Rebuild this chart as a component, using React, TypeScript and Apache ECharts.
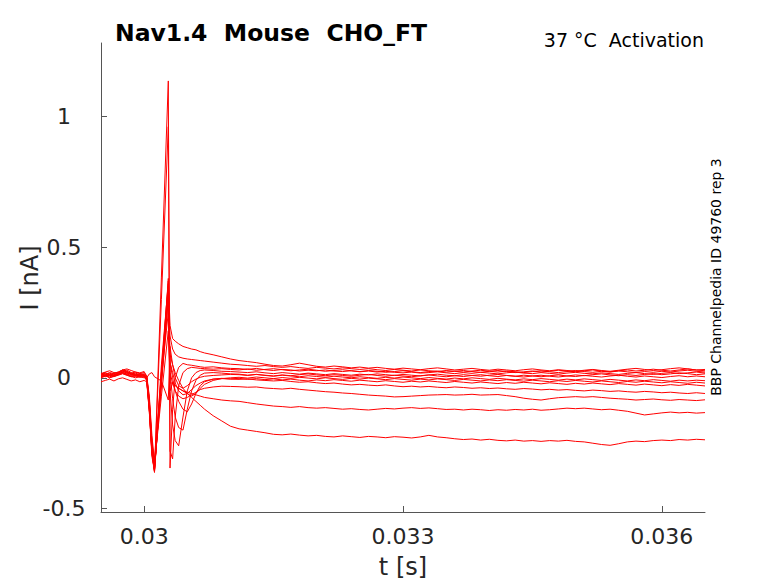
import React, { useEffect, useRef } from 'react';
import * as echarts from 'echarts';

// sample times in ms (converted to seconds when the series are built)
const timeMs = [
  29.5, 29.55, 29.6, 29.65, 29.7, 29.75, 29.8, 29.85, 29.9, 29.95, 30.0,
  30.03, 30.06, 30.09, 30.12, 30.2, 30.28, 30.3, 30.33, 30.36, 30.4, 30.45, 30.5, 30.55, 30.6, 30.65, 30.7, 30.8, 30.9, 31.0,
  31.1, 31.2, 31.3, 31.4, 31.5, 31.6, 31.7, 31.8, 31.9, 32.0,
  32.1, 32.2, 32.3, 32.4, 32.5, 32.6, 32.7, 32.8, 32.9, 33.0,
  33.1, 33.2, 33.3, 33.4, 33.5, 33.6, 33.7, 33.8, 33.9, 34.0,
  34.1, 34.2, 34.3, 34.4, 34.5, 34.6, 34.7, 34.8, 34.9, 35.0,
  35.1, 35.2, 35.3, 35.4, 35.5, 35.6, 35.7, 35.8, 35.9, 36.0,
  36.1, 36.2, 36.3, 36.4, 36.5,
];

// currents in nA, one array per sweep
const sweep1 = [
  0.01, 0.015, 0.008, 0.012, 0.018, 0.028, 0.022, 0.014, 0.01, 0.016, 0.012,
  0.0, -0.11, -0.28, -0.362, 0.385, 1.135, -0.345, -0.12, 0.0, 0.04, 0.055, 0.05, 0.048, 0.045, 0.042, 0.04, 0.042, 0.038, 0.036,
  0.035, 0.032, 0.036, 0.031, 0.028, 0.032, 0.03, 0.026, 0.029, 0.027,
  0.03, 0.026, 0.024, 0.027, 0.023, 0.026, 0.022, 0.025, 0.021, 0.019,
  0.022, 0.018, 0.02, 0.023, 0.019, 0.016, 0.02, 0.017, 0.021, 0.018,
  0.015, 0.019, 0.022, 0.018, 0.016, 0.02, 0.017, 0.014, 0.018, 0.021,
  0.017, 0.015, 0.019, 0.016, 0.013, 0.017, 0.02, 0.016, 0.013, 0.017,
  0.02, 0.016, 0.019, 0.022, 0.018,
];
const sweep2 = [
  0.005, 0.012, 0.018, 0.01, 0.014, 0.022, 0.03, 0.02, 0.012, 0.008, 0.01,
  -0.005, -0.12, -0.29, -0.355, 0.3, 0.96, -0.28, -0.31, -0.15, -0.03, 0.02, 0.035, 0.04, 0.038, 0.036, 0.035, 0.033, 0.035, 0.032,
  0.03, 0.034, 0.029, 0.032, 0.035, 0.031, 0.027, 0.03, 0.033, 0.029,
  0.025, 0.028, 0.031, 0.027, 0.024, 0.028, 0.025, 0.021, 0.024, 0.027,
  0.023, 0.02, 0.024, 0.026, 0.022, 0.025, 0.028, 0.024, 0.021, 0.025,
  0.028, 0.024, 0.02, 0.023, 0.026, 0.022, 0.025, 0.029, 0.026, 0.023,
  0.027, 0.03, 0.026, 0.023, 0.027, 0.03, 0.026, 0.029, 0.033, 0.029,
  0.026, 0.03, 0.034, 0.03, 0.032,
];
const sweep3 = [
  0.0, 0.006, 0.012, 0.005, 0.01, 0.016, 0.01, 0.004, 0.008, 0.002, 0.005,
  -0.01, -0.13, -0.3, -0.358, 0.0, 0.38, -0.05, -0.18, -0.24, -0.26, -0.15, -0.05, 0.0, 0.02, 0.028, 0.03, 0.028, 0.025, 0.024,
  0.022, 0.02, 0.023, 0.019, 0.016, 0.02, 0.017, 0.014, 0.018, 0.015,
  0.012, 0.016, 0.013, 0.01, 0.014, 0.011, 0.015, 0.012, 0.009, 0.013,
  0.01, 0.007, 0.011, 0.014, 0.01, 0.008, 0.012, 0.009, 0.006, 0.01,
  0.013, 0.009, 0.006, 0.01, 0.007, 0.004, 0.008, 0.011, 0.007, 0.005,
  0.009, 0.006, 0.003, 0.007, 0.01, 0.006, 0.003, 0.007, 0.004, 0.001,
  0.005, 0.008, 0.004, 0.007, 0.004,
];
const sweep4 = [
  0.008, 0.004, 0.01, 0.016, 0.012, 0.02, 0.015, 0.009, 0.005, 0.01, 0.006,
  -0.008, -0.12, -0.29, -0.352, 0.0, 0.35, 0.02, -0.08, -0.15, -0.19, -0.2, -0.12, -0.05, -0.01, 0.01, 0.018, 0.02, 0.018, 0.015,
  0.014, 0.01, 0.013, 0.009, 0.006, 0.01, 0.007, 0.004, 0.008, 0.005,
  0.002, 0.006, 0.003, 0.0, 0.004, 0.001, -0.002, 0.002, -0.001, 0.003,
  0.0, -0.003, 0.001, -0.002, -0.005, -0.001, -0.004, 0.0, -0.003, -0.006,
  -0.002, -0.005, -0.008, -0.004, -0.007, -0.003, -0.006, -0.009, -0.005, -0.008,
  -0.004, -0.007, -0.01, -0.006, -0.009, -0.012, -0.008, -0.011, -0.007, -0.01,
  -0.013, -0.009, -0.012, -0.009, -0.011,
];
const sweep5 = [
  0.012, 0.018, 0.01, 0.006, 0.013, 0.024, 0.02, 0.015, 0.008, 0.012, 0.009,
  -0.003, -0.1, -0.27, -0.345, -0.02, 0.33, 0.06, 0.0, -0.05, -0.09, -0.12, -0.13, -0.1, -0.06, -0.03, -0.015, -0.005, -0.002, -0.004,
  -0.002, -0.006, -0.003, -0.007, -0.004, -0.008, -0.005, -0.009, -0.012, -0.008,
  -0.011, -0.007, -0.01, -0.013, -0.009, -0.012, -0.015, -0.011, -0.014, -0.017,
  -0.013, -0.016, -0.012, -0.015, -0.018, -0.014, -0.017, -0.02, -0.016, -0.019,
  -0.022, -0.018, -0.021, -0.017, -0.02, -0.023, -0.019, -0.022, -0.025, -0.021,
  -0.024, -0.02, -0.023, -0.026, -0.022, -0.025, -0.028, -0.024, -0.027, -0.03,
  -0.026, -0.029, -0.025, -0.028, -0.031,
];
const sweep6 = [
  0.015, 0.01, 0.004, 0.009, 0.016, 0.02, 0.014, 0.018, 0.012, 0.007, 0.011,
  0.002, -0.09, -0.25, -0.34, -0.03, 0.3, 0.09, 0.05, 0.02, -0.01, -0.04, -0.06, -0.07, -0.06, -0.04, -0.025, -0.01, -0.003, 0.0,
  0.002, -0.001, 0.003, 0.0, -0.003, 0.001, -0.002, 0.002, -0.001, -0.004,
  0.0, -0.003, -0.006, -0.002, -0.005, -0.001, -0.004, -0.007, -0.003, -0.006,
  -0.009, -0.005, -0.008, -0.004, -0.007, -0.01, -0.006, -0.009, -0.012, -0.008,
  -0.011, -0.007, -0.01, -0.013, -0.009, -0.012, -0.015, -0.011, -0.014, -0.01,
  -0.013, -0.016, -0.012, -0.015, -0.018, -0.014, -0.017, -0.013, -0.016, -0.019,
  -0.015, -0.018, -0.021, -0.017, -0.02,
];
const sweep7 = [
  0.016, 0.022, 0.027, 0.02, 0.018, 0.03, 0.034, 0.028, 0.022, 0.019, 0.024,
  0.004, -0.08, -0.24, -0.33, 0.02, 0.37, 0.2, 0.15, 0.14, 0.13, 0.12, 0.115, 0.11, 0.107, 0.1, 0.095, 0.088, 0.08, 0.072,
  0.066, 0.062, 0.058, 0.052, 0.047, 0.045, 0.05, 0.056, 0.05, 0.044,
  0.041, 0.045, 0.042, 0.038, 0.041, 0.037, 0.04, 0.036, 0.033, 0.037,
  0.034, 0.031, 0.035, 0.038, 0.034, 0.03, 0.033, 0.036, 0.032, 0.029,
  0.033, 0.03, 0.027, 0.031, 0.034, 0.03, 0.027, 0.031, 0.028, 0.025,
  0.029, 0.032, 0.028, 0.025, 0.029, 0.033, 0.036, 0.032, 0.028, 0.031,
  0.035, 0.038, 0.034, 0.03, 0.027,
];
const sweep8 = [
  0.018, 0.014, 0.02, 0.016, 0.022, 0.03, 0.024, 0.018, 0.022, 0.016, 0.02,
  0.008, -0.07, -0.22, -0.32, 0.0, 0.34, 0.16, 0.11, 0.09, 0.08, 0.075, 0.072, 0.07, 0.068, 0.066, 0.064, 0.06, 0.056, 0.052,
  0.05, 0.047, 0.044, 0.047, 0.043, 0.04, 0.043, 0.039, 0.036, 0.04,
  0.037, 0.034, 0.038, 0.035, 0.032, 0.035, 0.031, 0.028, 0.032, 0.029,
  0.026, 0.03, 0.027, 0.024, 0.028, 0.025, 0.022, 0.026, 0.029, 0.025,
  0.022, 0.026, 0.023, 0.02, 0.024, 0.027, 0.023, 0.02, 0.024, 0.028,
  0.024, 0.021, 0.025, 0.022, 0.026, 0.023, 0.02, 0.024, 0.021, 0.025,
  0.022, 0.026, 0.029, 0.025, 0.022,
];
const sweep9 = [
  0.012, 0.008, 0.015, 0.01, 0.02, 0.025, 0.018, 0.012, 0.015, 0.01, 0.012,
  0.0, -0.1, -0.25, -0.33, -0.07, 0.18, -0.05, -0.02, -0.03, -0.04, -0.05, -0.06, -0.075, -0.09, -0.105, -0.12, -0.145, -0.165, -0.185,
  -0.195, -0.2, -0.205, -0.21, -0.216, -0.218, -0.215, -0.219, -0.222, -0.22,
  -0.224, -0.226, -0.222, -0.225, -0.228, -0.224, -0.226, -0.229, -0.225, -0.227,
  -0.23, -0.226, -0.22, -0.226, -0.229, -0.233, -0.236, -0.234, -0.238, -0.235,
  -0.239, -0.241, -0.238, -0.242, -0.24, -0.243, -0.24, -0.242, -0.239, -0.243,
  -0.245, -0.25, -0.255, -0.258, -0.252, -0.245, -0.242, -0.244, -0.24, -0.238,
  -0.24, -0.236, -0.238, -0.235, -0.237,
];
const sweep10 = [
  0.005, 0.01, 0.0, 0.008, 0.015, 0.02, 0.012, 0.006, 0.01, 0.004, 0.008,
  -0.01, -0.12, -0.27, -0.35, 0.0, 0.25, -0.02, -0.02, -0.03, -0.04, -0.05, -0.055, -0.06, -0.065, -0.07, -0.075, -0.08, -0.085, -0.088,
  -0.09, -0.095, -0.1, -0.104, -0.108, -0.11, -0.113, -0.11, -0.114, -0.116,
  -0.114, -0.117, -0.12, -0.118, -0.121, -0.123, -0.12, -0.117, -0.119, -0.116,
  -0.114, -0.117, -0.115, -0.118, -0.121, -0.12, -0.123, -0.12, -0.122, -0.125,
  -0.122, -0.124, -0.121, -0.123, -0.12, -0.124, -0.122, -0.119, -0.116, -0.118,
  -0.116, -0.119, -0.122, -0.12, -0.124, -0.128, -0.135, -0.142, -0.138, -0.134,
  -0.131, -0.134, -0.132, -0.135, -0.133,
];
const sweep11 = [
  0.015, 0.02, 0.012, 0.018, 0.022, 0.03, 0.025, 0.015, 0.018, 0.012, 0.015,
  0.005, -0.09, -0.26, -0.35, 0.02, 0.3, 0.02, -0.02, -0.05, -0.07, -0.08, -0.075, -0.065, -0.055, -0.045, -0.04, -0.035, -0.032, -0.033,
  -0.034, -0.036, -0.035, -0.039, -0.041, -0.043, -0.04, -0.044, -0.047, -0.05,
  -0.053, -0.055, -0.058, -0.06, -0.063, -0.066, -0.068, -0.07, -0.073, -0.072,
  -0.07, -0.068, -0.066, -0.065, -0.064, -0.066, -0.065, -0.063, -0.066, -0.065,
  -0.064, -0.068, -0.072, -0.078, -0.082, -0.085, -0.08, -0.076, -0.074, -0.072,
  -0.074, -0.072, -0.075, -0.078, -0.08, -0.082, -0.085, -0.083, -0.081, -0.084,
  -0.086, -0.083, -0.085, -0.087, -0.084,
];
const sweep12 = [
  -0.015, -0.01, -0.005, -0.012, -0.004, 0.0, -0.006, -0.012, -0.008, -0.015, -0.01,
  -0.015, -0.13, -0.28, -0.36, 0.05, 0.36, 0.06, 0.02, -0.02, -0.05, -0.065, -0.06, -0.045, -0.03, -0.02, -0.012, -0.005, -0.003, -0.005,
  -0.006, -0.004, -0.008, -0.01, -0.012, -0.01, -0.014, -0.017, -0.015, -0.019,
  -0.022, -0.02, -0.024, -0.027, -0.025, -0.028, -0.03, -0.027, -0.031, -0.034,
  -0.032, -0.035, -0.033, -0.036, -0.038, -0.035, -0.037, -0.04, -0.038, -0.041,
  -0.039, -0.042, -0.044, -0.041, -0.043, -0.046, -0.044, -0.047, -0.045, -0.048,
  -0.05, -0.047, -0.049, -0.052, -0.05, -0.053, -0.055, -0.052, -0.054, -0.057,
  -0.055, -0.058, -0.06, -0.057, -0.06,
];
const sweep13 = [
  0.003, 0.008, 0.0, 0.005, 0.011, 0.016, 0.01, 0.005, 0.0, 0.004, 0.0,
  0.0, 0.015, 0.02, 0.004, -0.012, -0.085, 0.12, 0.05, 0.0, -0.03, -0.04, -0.03, -0.015, -0.005, 0.002, 0.006, 0.009, 0.011, 0.013,
  0.012, 0.009, 0.013, 0.01, 0.007, 0.011, 0.008, 0.012, 0.015, 0.011,
  0.008, 0.012, 0.009, 0.006, 0.01, 0.013, 0.009, 0.006, 0.01, 0.007,
  0.004, 0.008, 0.011, 0.007, 0.004, 0.008, 0.005, 0.009, 0.012, 0.008,
  0.005, 0.009, 0.006, 0.003, 0.007, 0.01, 0.006, 0.003, 0.007, 0.011,
  0.008, 0.012, 0.015, 0.011, 0.008, 0.012, 0.009, 0.013, 0.016, 0.012,
  0.015, 0.019, 0.016, 0.012, 0.015,
];

const sweeps = [sweep1, sweep2, sweep3, sweep4, sweep5, sweep6, sweep7, sweep8, sweep9, sweep10, sweep11, sweep12, sweep13];

const xTicks = [0.03, 0.033, 0.036];
const yTicks = [-0.5, 0, 0.5, 1];

const FONT = 'DejaVu Sans';

function App() {
  const chartRef = useRef<HTMLDivElement>(null);

  useEffect(() => {
    const chart = echarts.init(chartRef.current, null, { renderer: 'svg' });

    const series = sweeps.map((vals) => ({
      type: 'line',
      data: vals.map((v, i) => [timeMs[i] / 1000, v]),
      symbol: 'none',
      showSymbol: false,
      silent: true,
      lineStyle: { color: '#ff0000', width: 1 },
      itemStyle: { color: '#ff0000' },
    }));

    const axisColor = '#555555';

    chart.setOption({
      animation: false,
      backgroundColor: '#ffffff',
      grid: { left: 101, top: 43, width: 604, height: 469 },
      xAxis: {
        type: 'value',
        min: 0.0295,
        max: 0.0365,
        axisLine: { onZero: false, lineStyle: { color: axisColor, width: 1 } },
        axisTick: { inside: true, length: 6, customValues: xTicks, lineStyle: { color: axisColor } },
        axisLabel: {
          customValues: xTicks,
          formatter: (v: number) => String(v),
          fontFamily: FONT,
          fontSize: 22,
          color: '#262626',
          margin: 13,
        },
        splitLine: { show: false },
      },
      yAxis: {
        type: 'value',
        min: -0.513,
        max: 1.28,
        axisLine: { show: true, onZero: false, lineStyle: { color: axisColor, width: 1 } },
        axisTick: { show: true, inside: true, length: 6, customValues: yTicks, lineStyle: { color: axisColor } },
        axisLabel: {
          customValues: yTicks,
          formatter: (v: number) => String(v),
          fontFamily: FONT,
          fontSize: 22,
          color: '#262626',
          align: 'center',
          margin: 37,
        },
        splitLine: { show: false },
      },
      graphic: [
        {
          type: 'text',
          x: 115,
          y: 33,
          style: {
            text: 'Nav1.4  Mouse  CHO_FT',
            font: `bold 23.5px "${FONT}"`,
            fill: '#000000',
            textAlign: 'left',
            textVerticalAlign: 'middle',
          },
        },
        {
          type: 'text',
          x: 704,
          y: 40,
          style: {
            text: '37 °C  Activation',
            font: `19px "${FONT}"`,
            fill: '#000000',
            textAlign: 'right',
            textVerticalAlign: 'middle',
          },
        },
        {
          type: 'text',
          x: 716,
          y: 277,
          rotation: Math.PI / 2,
          style: {
            text: 'BBP Channelpedia ID 49760 rep 3',
            font: `14px "${FONT}"`,
            fill: '#000000',
            textAlign: 'center',
            textVerticalAlign: 'middle',
          },
        },
        {
          type: 'text',
          x: 403,
          y: 567,
          style: {
            text: 't [s]',
            font: `24px "${FONT}"`,
            fill: '#262626',
            textAlign: 'center',
            textVerticalAlign: 'middle',
          },
        },
        {
          type: 'text',
          x: 30,
          y: 278,
          rotation: Math.PI / 2,
          style: {
            text: 'I [nA]',
            font: `24px "${FONT}"`,
            fill: '#262626',
            textAlign: 'center',
            textVerticalAlign: 'middle',
          },
        },
      ],
      series,
    });

    return () => {
      chart.dispose();
    };
  }, []);

  return (
    <div
      ref={chartRef}
      style={{ position: 'fixed', left: 0, top: 0, width: '778px', height: '583px', background: '#fff' }}
    ></div>
  );
}

export default App;
